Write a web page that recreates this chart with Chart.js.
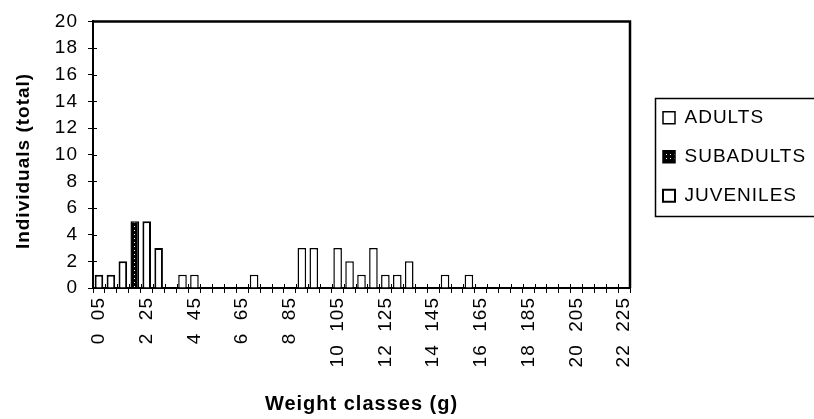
<!DOCTYPE html>
<html>
<head>
<meta charset="utf-8">
<title>Individuals per weight class</title>
<script src="https://cdn.jsdelivr.net/npm/chart.js@4/dist/chart.umd.min.js"></script>
<style>
  html, body { margin: 0; padding: 0; background: #fff; }
  #c { display: block; }
</style>
</head>
<body>
<canvas id="c" width="814" height="419"></canvas>
<script>
// Weight classes of 0.5 g (label text as printed on the axis)
const weightClasses = [
  '0  05', '05  1', '1  15', '15  2', '2  25', '25  3', '3  35', '35  4',
  '4  45', '45  5', '5  55', '55  6', '6  65', '65  7', '7  75', '75  8',
  '8  85', '85  9', '9  95', '95  10', '10  105', '105  11', '11  115', '115  12',
  '12  125', '125  13', '13  135', '135  14', '14  145', '145  15', '15  155', '155  16',
  '16  165', '165  17', '17  175', '175  18', '18  185', '185  19', '19  195', '195  20',
  '20  205', '205  21', '21  215', '215  22', '22  225'
];

// Number of individuals per class
const adults = [
  0, 0, 0, 0, 0, 0, 0, 1, 1, 0, 0, 0, 0, 1, 0, 0,
  0, 3, 3, 0, 3, 2, 1, 3, 1, 1, 2, 0, 0, 1, 0, 1,
  0, 0, 0, 0, 0, 0, 0, 0, 0, 0, 0, 0, 0
];
const subadults = [
  0, 0, 0, 5, 0, 0, 0, 0, 0, 0, 0, 0, 0, 0, 0, 0,
  0, 0, 0, 0, 0, 0, 0, 0, 0, 0, 0, 0, 0, 0, 0, 0,
  0, 0, 0, 0, 0, 0, 0, 0, 0, 0, 0, 0, 0
];
const juveniles = [
  1, 1, 2, 0, 5, 3, 0, 0, 0, 0, 0, 0, 0, 0, 0, 0,
  0, 0, 0, 0, 0, 0, 0, 0, 0, 0, 0, 0, 0, 0, 0, 0,
  0, 0, 0, 0, 0, 0, 0, 0, 0, 0, 0, 0, 0
];

// Y axis range and step
const yMin = 0;
const yMax = 20;
const yStep = 2;

const FONT = '"Liberation Sans", Arial, Helvetica, sans-serif';
Chart.defaults.font.family = FONT;
Chart.defaults.color = '#000';

const canvas = document.getElementById('c');
const ctx2d = canvas.getContext('2d');

// Dense dot fill for the SUBADULTS series
const tile = document.createElement('canvas');
tile.width = 4; tile.height = 4;
const tg = tile.getContext('2d');
tg.fillStyle = '#000'; tg.fillRect(0, 0, 4, 4);
tg.fillStyle = '#fff'; tg.fillRect(2, 2, 1, 1);
const dotFill = ctx2d.createPattern(tile, 'repeat');

const LEGEND_PAD = 20;

// Plot frame, inner tick marks, legend frame, letter spacing
const framePlugin = {
  id: 'frame',
  beforeLayout(chart) { chart.ctx.letterSpacing = '1px'; },
  beforeDraw(chart) { chart.ctx.letterSpacing = '1px'; },
  afterLayout(chart) {
    const lg = chart.legend;
    lg.left += 13; lg.right += 13;
    lg.top += 2; lg.bottom += 2;
  },
  afterDraw(chart) {
    const { ctx, chartArea: a } = chart;
    const xs = chart.scales.x, ys = chart.scales.y;
    ctx.save();
    ctx.strokeStyle = '#000';
    ctx.lineWidth = 2.5;
    ctx.beginPath();
    ctx.moveTo(a.left, a.top);
    ctx.lineTo(a.right, a.top);
    ctx.lineTo(a.right, a.bottom);
    ctx.stroke();

    ctx.lineWidth = 1;
    ctx.beginPath();
    ys.ticks.forEach((t, i) => {
      const py = Math.round(ys.getPixelForTick(i)) + 0.5;
      ctx.moveTo(a.left, py); ctx.lineTo(a.left + 4, py);
    });
    for (let i = 0; i <= weightClasses.length; i++) {
      const px = Math.round(xs.getPixelForValue(i - 0.5)) + 0.5;
      ctx.moveTo(px, a.bottom); ctx.lineTo(px, a.bottom - 4);
    }
    ctx.stroke();

    const lg = chart.legend;
    const colH = lg.columnSizes[0].height;
    const y0 = (lg.top + LEGEND_PAD + lg.bottom - colH) / 2;
    const fx = Math.round(lg.left + LEGEND_PAD - 8) + 0.5;
    const fy = Math.round(y0 - 10) + 0.5;
    const fb = Math.round(y0 + colH - LEGEND_PAD + 11) + 0.5;
    ctx.lineWidth = 1.5;
    ctx.strokeRect(fx, fy, 840 - fx, fb - fy);
    ctx.restore();
  }
};

new Chart(canvas, {
  type: 'bar',
  data: {
    labels: weightClasses,
    datasets: [
      { label: 'ADULTS', data: adults, backgroundColor: '#fff', borderColor: '#000', borderWidth: 1.5 },
      { label: 'SUBADULTS', data: subadults, backgroundColor: dotFill, borderColor: '#000', borderWidth: 1.5 },
      { label: 'JUVENILES', data: juveniles, backgroundColor: '#fff', borderColor: '#000', borderWidth: 2 }
    ]
  },
  options: {
    responsive: false,
    animation: false,
    devicePixelRatio: 1,
    categoryPercentage: 0.72,
    barPercentage: 1,
    layout: { padding: { left: 0, top: 20, right: 14, bottom: 0 } },
    plugins: {
      tooltip: { enabled: false },
      legend: {
        position: 'right',
        align: 'center',
        fullSize: false,
        maxWidth: 170,
        labels: {
          boxWidth: 12,
          boxHeight: 12,
          padding: LEGEND_PAD,
          color: '#000',
          font: { size: 19, lineHeight: 0.95 }
        }
      }
    },
    scales: {
      x: {
        stacked: true,
        grid: { display: true, drawOnChartArea: false, offset: true, tickLength: 5, color: '#000', lineWidth: 1 },
        border: { display: true, color: '#000', width: 2 },
        ticks: {
          autoSkip: false,
          maxRotation: 90,
          minRotation: 90,
          padding: 4,
          font: { size: 19 },
          callback: (v, i) => (i % 4 === 0 ? weightClasses[i] : '')
        },
        title: {
          display: true,
          text: 'Weight classes (g)',
          font: { size: 20, weight: 'bold' },
          padding: { top: 0, bottom: 3 }
        },
        afterFit: (s) => { s.height = 131; }
      },
      y: {
        stacked: true,
        min: yMin,
        max: yMax,
        ticks: { stepSize: yStep, padding: 10, font: { size: 19 } },
        grid: { drawOnChartArea: false, tickLength: 5, color: '#000', lineWidth: 1 },
        border: { display: true, color: '#000', width: 2 },
        title: {
          display: true,
          text: 'Individuals (total)  ',
          font: { size: 19, weight: 'bold' },
          padding: { top: 12, bottom: 0 }
        },
        afterFit: (s) => { s.width = 93; }
      }
    }
  },
  plugins: [framePlugin]
});
</script>
</body>
</html>
